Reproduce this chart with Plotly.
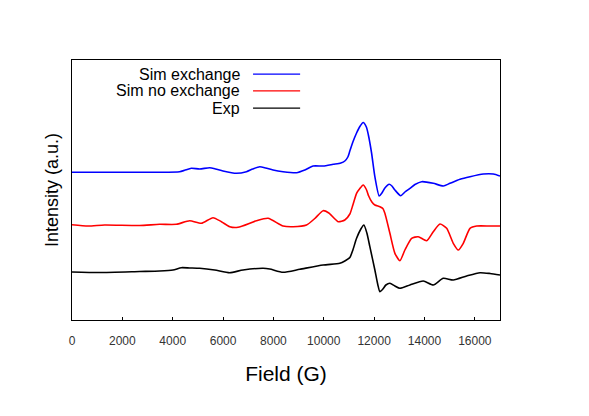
import plotly.graph_objects as go

# Field (G) and intensity (arbitrary units, offset per trace)
blue_x = [0, 3480, 4275, 4474, 4741, 5071, 5468, 5707, 5997, 6530, 6928, 7178, 7457, 7695, 7986, 8384,
          8916, 9247, 9577, 9974, 10372, 10678, 10837, 10957, 11036, 11156, 11303, 11434, 11565, 11692,
          11772, 11899, 12030, 12202, 12309, 12428, 12599, 12707, 12826, 13053, 13223, 13422, 13621,
          13888, 14349, 14747, 15013, 15411, 15808, 16337, 16735, 17000]
blue_y = [147.7, 147.7, 148.3, 149.7, 151.7, 151, 152.3, 151, 149, 146.7, 148.3, 151, 153.3, 152, 150,
          148.3, 147.3, 150, 154, 154, 155.7, 157, 159, 163, 169, 178, 187, 193.5, 197.5, 193, 185, 167,
          143.3, 124, 127, 132, 135.7, 134, 130, 124.3, 128, 131.7, 135.5, 138.3, 136.7, 134, 136.7,
          140.7, 143.3, 146, 146, 144]

red_x = [0, 644, 1293, 2684, 3480, 4144, 4673, 5138, 5600, 5934, 6264, 6594, 7326, 7787, 8384, 8781,
         9314, 9645, 9974, 10201, 10571, 10837, 11036, 11156, 11303, 11434, 11565, 11692, 11784, 11911,
         12030, 12229, 12348, 12428, 12627, 12826, 13025, 13223, 13490, 13752, 14087, 14349, 14616,
         14882, 15144, 15343, 15542, 15808, 16075, 16604, 17000]
red_y = [95.3, 94, 95, 94.5, 95.7, 95.7, 99.3, 96.7, 102.3, 98.3, 93.3, 92.7, 99.3, 101.7, 94, 93.3, 95,
         101.5, 109.3, 107, 98.3, 100, 106, 115, 126.7, 131.5, 135, 130.5, 124, 118, 115, 113.3, 111.5,
         106.7, 86.7, 66.7, 59.3, 70, 81.7, 83.3, 79.3, 88.3, 96, 91.7, 76.7, 70, 76.7, 91.7, 94, 94, 94]

exp_x = [0, 1094, 2684, 3480, 4009, 4343, 4673, 5071, 5667, 6264, 6793, 7588, 7855, 8384, 9048, 9974,
         10638, 10837, 11036, 11156, 11303, 11474, 11593, 11712, 11831, 12030, 12149, 12229, 12348,
         12468, 12627, 12826, 13025, 13422, 13952, 14349, 14747, 15144, 15677, 16206, 16604, 17000]
exp_y = [48, 47.5, 48.5, 49, 50, 52.3, 52, 51.7, 50, 47.3, 50, 51.7, 51, 47.7, 50.7, 55, 56.7, 59, 62.5,
         70, 81.7, 91, 95, 87, 73.3, 50, 35, 28.3, 31, 35, 36.7, 34, 31.7, 35, 39, 35, 41.7, 40, 44,
         47.3, 46.5, 45]

series_names = ["Sim exchange", "Sim no exchange", "Exp"]
series_colors = ["#0000ff", "#ff0000", "#000000"]
x_ticks = [0, 2000, 4000, 6000, 8000, 10000, 12000, 14000, 16000]

fig = go.Figure()
for xs, ys, name, col in [(blue_x, blue_y, series_names[0], series_colors[0]),
                          (red_x, red_y, series_names[1], series_colors[1]),
                          (exp_x, exp_y, series_names[2], series_colors[2])]:
    fig.add_trace(go.Scatter(x=xs, y=ys, mode="lines", name=name,
                             line=dict(color=col, width=1.6, shape="spline", smoothing=0.6),
                             showlegend=False))

# manual legend (text to the left of the line sample)
leg_y = [0.946, 0.881, 0.815]
for name, col, yy in zip(series_names, series_colors, leg_y):
    fig.add_annotation(xref="paper", yref="paper", x=0.397, y=yy, text=name, showarrow=False,
                       xanchor="right", yanchor="middle",
                       font=dict(family="Liberation Sans", size=16, color="black"))
    fig.add_shape(type="line", xref="paper", yref="paper", x0=0.423, x1=0.533, y0=yy, y1=yy,
                  line=dict(color=col, width=1.2))

fig.update_layout(
    width=589, height=416,
    margin=dict(l=64, r=97, t=52, b=104),
    paper_bgcolor="white", plot_bgcolor="white",
    font=dict(family="Liberation Sans", color="black"),
)
fig.update_xaxes(range=[0, 17000], tickvals=x_ticks, ticktext=[str(v) for v in x_ticks],
                 ticks="inside", ticklen=3, tickcolor="black",
                 showline=True, linecolor="black", linewidth=1, mirror=True,
                 showgrid=False, zeroline=False,
                 tickfont=dict(size=12, color="#333333"), ticklabelstandoff=10,
                 title=dict(text="Field (G)", font=dict(size=21), standoff=18))
fig.update_yaxes(range=[0, 260], showticklabels=False, ticks="",
                 showline=True, linecolor="black", linewidth=1, mirror=True,
                 showgrid=False, zeroline=False,
                 title=dict(text="Intensity (a.u.)", font=dict(size=18), standoff=7))

fig.write_html("out.html")
